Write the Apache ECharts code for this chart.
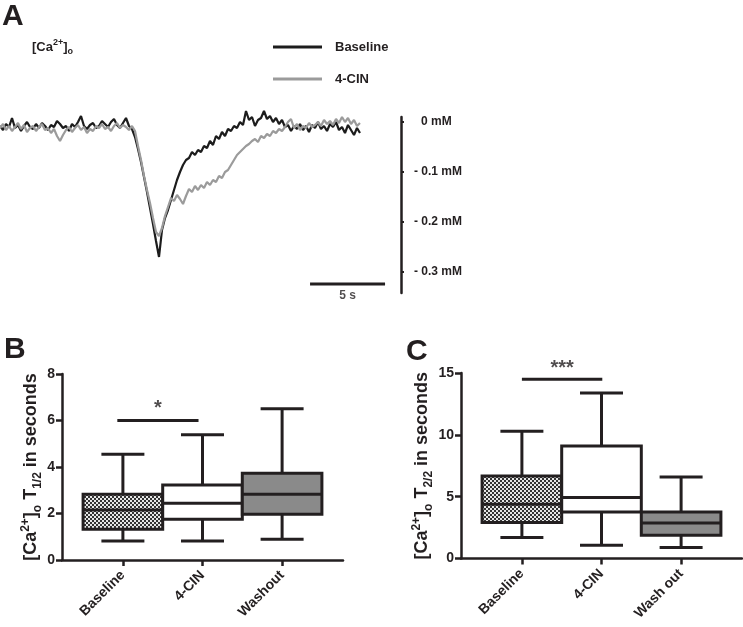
<!DOCTYPE html>
<html><head><meta charset="utf-8">
<script src="https://cdn.jsdelivr.net/npm/echarts@6/dist/echarts.min.js"></script>
<style>html,body{margin:0;padding:0;background:#fff}#c{width:743px;height:627px}</style>
</head><body><div id="c"></div>
<script>
// ---------- Panel A : [Ca2+]o traces (µM, sampled every 0.2 s) ----------
const sampleInterval = 0.2;
const baselineTrace = [
 -8,-16,-4,-10,8,-12,-6,-18,-8,0,-10,-14,-4,-12,-2,-8,-16,-6,-10,2,-4,-12,-8,-18,-4,-10,0,12,-8,-14,-6,-2,-12,-8,2,-4,-10,0,6,-6,-12,-2,8,-8,
 -14,-30,-54,-80,-110,-140,-172,-204,-238,-270,
 -216,-192,-176,-156,-136,-116,-100,-86,-76,-72,-60,-66,-56,-60,-48,-52,-38,-46,-28,-34,-20,-28,-14,-18,-8,-12,0,-6,22,4,10,-8,4,8,22,6,12,0,8,-4,4,-10,-6,-18,-8,-14,-4,-16,-8,-20,-6,-12,0,-14,-8,-18,-4,-10,0,-16,-10,-22,-6,-16,-26,-12,-22
];
const cinTrace = [
 -12,-4,-16,-8,-18,-10,-2,-14,-6,-20,-12,-8,-18,-10,-4,-16,-12,-22,-14,-28,-38,-26,-16,-10,-20,-12,-6,-16,-10,-22,-14,-18,-8,-12,-4,-14,-10,-18,-8,-2,-12,-6,-10,-16,
 -8,-18,-48,-76,-108,-136,-162,-192,-220,-228,
 -212,-188,-170,-152,-158,-146,-154,-164,-148,-134,-140,-128,-136,-126,-132,-120,-126,-116,-120,-108,-112,-100,-96,-86,-76,-66,-60,-54,-48,-44,-38,-34,-40,-28,-32,-24,-28,-18,-22,-14,-18,-10,0,6,-12,-4,-16,-8,-12,-2,-10,-6,0,-8,4,-4,2,-6,6,-2,10,0,8,-4,4,-8,-2
];
const yTicksA = [0, -100, -200, -300];      // µM
const scaleBarTime = [20.67, 25.67];        // 5 s bar
const scaleBarLevel = -324;                 // µM

// ---------- Panel B : T1/2 ----------
const catsB = ['Baseline', '4-CIN', 'Washout'];
const loB  = [0.82, 0.82, 0.89];
const q1B  = [1.32, 1.75, 1.97];
const medB = [2.15, 2.44, 2.83];
const q3B  = [2.83, 3.23, 3.73];
const hiB  = [4.55, 5.39, 6.51];
const sigBx = [0.93, 1.95], sigBy = 6.0, sigBtext = '*';

// ---------- Panel C : T2/2 ----------
const catsC = ['Baseline', '4-CIN', 'Wash out'];
const loC  = [1.70, 1.08, 0.89];
const q1C  = [2.91, 3.77, 1.88];
const medC = [4.39, 4.93, 2.88];
const q3C  = [6.68, 9.10, 3.77];
const hiC  = [10.29, 13.39, 6.60];
const sigCx = [1.0, 2.01], sigCy = 14.5, sigCtext = '***';

const INK = '#231f20';
const FONT = 'Liberation Sans, Arial, Helvetica, sans-serif';

const pat = document.createElement('canvas'); pat.width = 4; pat.height = 4;
const g = pat.getContext('2d');
g.fillStyle = '#e6e6e6'; g.fillRect(0, 0, 4, 4);
g.fillStyle = '#333333'; g.fillRect(0, 0, 2, 2); g.fillRect(2, 2, 2, 2);
const fills = [{image: pat, repeat: 'repeat'}, '#ffffff', '#8a8a8a'];

function traceData(arr) { return arr.map((v, i) => [i * sampleInterval, v]); }
function boxRows(lo, q1, med, q3, hi) { return lo.map((v, i) => [i + 1, v, q1[i], med[i], q3[i], hi[i]]); }

function renderBox(params, api) {
  const x = api.value(0);
  const unit = api.size([1, 0])[0];
  const bw = unit * 1.0, cw = unit * 0.54;
  const c = v => api.coord([x, v]);
  const cx = c(api.value(1))[0];
  const yLo = c(api.value(1))[1], yQ1 = c(api.value(2))[1], yMed = c(api.value(3))[1],
        yQ3 = c(api.value(4))[1], yHi = c(api.value(5))[1];
  const st = () => ({stroke: INK, lineWidth: 3, fill: null});
  return {type: 'group', children: [
    {type: 'line', shape: {x1: cx, y1: yHi, x2: cx, y2: yQ3}, style: st()},
    {type: 'line', shape: {x1: cx, y1: yQ1, x2: cx, y2: yLo}, style: st()},
    {type: 'line', shape: {x1: cx - cw / 2, y1: yHi, x2: cx + cw / 2, y2: yHi}, style: st()},
    {type: 'line', shape: {x1: cx - cw / 2, y1: yLo, x2: cx + cw / 2, y2: yLo}, style: st()},
    {type: 'rect', shape: {x: cx - bw / 2, y: yQ3, width: bw, height: yQ1 - yQ3},
     style: {fill: fills[params.dataIndex], stroke: INK, lineWidth: 3}},
    {type: 'line', shape: {x1: cx - bw / 2, y1: yMed, x2: cx + bw / 2, y2: yMed}, style: st()}
  ]};
}

const nameRich = {
  m:   {fontSize: 18, fontWeight: 'bold', fontFamily: FONT, color: INK, lineHeight: 24},
  sup: {fontSize: 12, fontWeight: 'bold', fontFamily: FONT, color: INK, lineHeight: 12, verticalAlign: 'top'},
  sub: {fontSize: 12, fontWeight: 'bold', fontFamily: FONT, color: INK, lineHeight: 12, verticalAlign: 'bottom'}
};

function boxXAxis(gridIndex, cats) {
  return {
    type: 'value', gridIndex, min: 0.235, max: 3.765,
    axisLine: {show: true, onZero: false, lineStyle: {color: INK, width: 2.5}},
    axisTick: {show: true, customValues: [1, 2, 3], length: 6, lineStyle: {color: INK, width: 2.5}},
    axisLabel: {show: true, customValues: [1, 2, 3], rotate: 45, margin: 13,
      formatter: v => cats[Math.round(v) - 1] || '',
      fontSize: 14, fontWeight: 'bold', fontFamily: FONT, color: INK},
    splitLine: {show: false}
  };
}
function boxYAxis(gridIndex, max, interval, name) {
  return {
    type: 'value', gridIndex, min: 0, max, interval,
    name, nameLocation: 'middle', nameGap: 18, nameTextStyle: {rich: nameRich},
    axisLine: {show: true, onZero: false, lineStyle: {color: INK, width: 2.5}},
    axisTick: {show: true, length: 6, lineStyle: {color: INK, width: 2.5}},
    axisLabel: {margin: 7, fontSize: 14, fontWeight: 'bold', fontFamily: FONT, color: INK},
    splitLine: {show: false}
  };
}

const option = {
  animation: false,
  backgroundColor: '#ffffff',
  title: [
    {text: 'A', left: 2, top: 2, padding: 0, textStyle: {fontSize: 30, fontWeight: 'bold', fontFamily: FONT, color: INK}},
    {text: 'B', left: 4, top: 335, padding: 0, textStyle: {fontSize: 30, fontWeight: 'bold', fontFamily: FONT, color: INK}},
    {text: 'C', left: 406, top: 337, padding: 0, textStyle: {fontSize: 30, fontWeight: 'bold', fontFamily: FONT, color: INK}},
    {text: '{m|[Ca}{sup|2+}{m|]}{sub|o}', left: 32, top: 38, padding: 0,
     textStyle: {rich: {
       m:   {fontSize: 13, fontFamily: FONT, color: INK, lineHeight: 18},
       sup: {fontSize: 9, fontFamily: FONT, color: INK, lineHeight: 9, verticalAlign: 'top'},
       sub: {fontSize: 9, fontFamily: FONT, color: INK, lineHeight: 9, verticalAlign: 'bottom'}}}}
  ],
  legend: {
    data: ['Baseline', '4-CIN'], orient: 'vertical', left: 273, top: 39, padding: 0,
    itemWidth: 49, itemHeight: 3, itemGap: 16, icon: 'rect',
    textStyle: {fontSize: 13, fontWeight: 'bold', fontFamily: FONT, color: INK, padding: [0, 0, 0, 8], lineHeight: 16}
  },
  grid: [
    {left: 0, top: 117, width: 401, height: 176},
    {left: 62, top: 374, width: 281, height: 186},
    {left: 461, top: 373, width: 281, height: 185.5}
  ],
  xAxis: [
    {type: 'value', gridIndex: 0, min: 0, max: 401 / 15, show: false},
    boxXAxis(1, catsB),
    boxXAxis(2, catsC)
  ],
  yAxis: [
    {type: 'value', gridIndex: 0, min: -342, max: 10, position: 'right',
     axisLine: {show: true, onZero: false, lineStyle: {color: INK, width: 2.5}},
     axisTick: {show: true, customValues: yTicksA, length: 3, lineStyle: {color: INK, width: 2}},
     axisLabel: {show: true, customValues: yTicksA, margin: 13, align: 'left',
       formatter: v => v === 0 ? '{z|0 mM}' : '- ' + (Math.abs(v) / 1000) + ' mM',
       rich: {z: {padding: [0, 0, 0, 7], fontSize: 12, fontWeight: 'bold', fontFamily: FONT, color: INK}},
       fontSize: 12, fontWeight: 'bold', fontFamily: FONT, color: INK},
     splitLine: {show: false}},
    boxYAxis(1, 8, 2, '{m|[Ca}{sup|2+}{m|]}{sub|o}{m| T}{sub|1/2}{m| in seconds}'),
    boxYAxis(2, 15, 5, '{m|[Ca}{sup|2+}{m|]}{sub|o}{m| T}{sub|2/2}{m| in seconds}')
  ],
  series: [
    {type: 'line', name: 'Baseline', xAxisIndex: 0, yAxisIndex: 0, data: traceData(baselineTrace),
     color: '#1c1c1c', showSymbol: false, symbol: 'none', clip: false, lineStyle: {width: 2.2, color: '#1c1c1c'}},
    {type: 'line', name: '4-CIN', xAxisIndex: 0, yAxisIndex: 0, data: traceData(cinTrace),
     color: '#9b9b9b', showSymbol: false, symbol: 'none', clip: false, lineStyle: {width: 2.2, color: '#9b9b9b'}},
    {type: 'line', xAxisIndex: 0, yAxisIndex: 0, data: scaleBarTime.map(t => [t, scaleBarLevel]),
     symbol: 'none', clip: false, lineStyle: {width: 3, color: INK}},
    {type: 'scatter', xAxisIndex: 0, yAxisIndex: 0, symbolSize: 0, clip: false,
     data: [[(scaleBarTime[0] + scaleBarTime[1]) / 2, scaleBarLevel]],
     label: {show: true, position: 'bottom', distance: 6, formatter: '5 s', fontSize: 12, fontWeight: 'bold', fontFamily: FONT, color: INK}},

    {type: 'custom', xAxisIndex: 1, yAxisIndex: 1, renderItem: renderBox, clip: false,
     encode: {x: 0, y: [1, 2, 3, 4, 5]}, data: boxRows(loB, q1B, medB, q3B, hiB)},
    {type: 'line', xAxisIndex: 1, yAxisIndex: 1, data: sigBx.map(x => [x, sigBy]),
     symbol: 'none', clip: false, lineStyle: {width: 3, color: INK}},
    {type: 'scatter', xAxisIndex: 1, yAxisIndex: 1, symbolSize: 0, clip: false,
     data: [[(sigBx[0] + sigBx[1]) / 2, sigBy]],
     label: {show: true, position: 'top', distance: 2, formatter: sigBtext, fontSize: 20, fontWeight: 'bold', fontFamily: FONT, color: INK}},

    {type: 'custom', xAxisIndex: 2, yAxisIndex: 2, renderItem: renderBox, clip: false,
     encode: {x: 0, y: [1, 2, 3, 4, 5]}, data: boxRows(loC, q1C, medC, q3C, hiC)},
    {type: 'line', xAxisIndex: 2, yAxisIndex: 2, data: sigCx.map(x => [x, sigCy]),
     symbol: 'none', clip: false, lineStyle: {width: 3, color: INK}},
    {type: 'scatter', xAxisIndex: 2, yAxisIndex: 2, symbolSize: 0, clip: false,
     data: [[(sigCx[0] + sigCx[1]) / 2, sigCy]],
     label: {show: true, position: 'top', distance: 1, formatter: sigCtext, fontSize: 20, fontWeight: 'bold', fontFamily: FONT, color: INK}}
  ]
};
const chart = echarts.init(document.getElementById('c'), null, {renderer: 'canvas'});
chart.setOption(option);
</script></body></html>
